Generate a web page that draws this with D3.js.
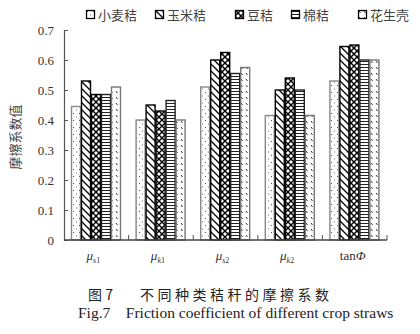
<!DOCTYPE html>
<html><head><meta charset="utf-8">
<script src="https://cdn.jsdelivr.net/npm/d3@7"></script>
<style>body{margin:0;background:#fff}svg{display:block}</style>
</head><body>
<svg id="c" width="420" height="334"></svg>
<script>
const categories = ["μs1","μk1","μs2","μk2","tanΦ"];
const catBase = ["μ","μ","μ","μ","tan"];
const catSub = ["s1","k1","s2","k2",""];
const seriesNames = ["小麦秸","玉米秸","豆秸","棉秸","花生壳"];
const wheat  = [0.445,0.40,0.51,0.415,0.53];
const corn   = [0.53,0.45,0.60,0.50,0.645];
const bean   = [0.485,0.43,0.625,0.54,0.65];
const cotton = [0.485,0.465,0.555,0.50,0.60];
const peanut = [0.51,0.40,0.575,0.415,0.60];
const seriesValues = [wheat,corn,bean,cotton,peanut];
const yTicks = [0,0.1,0.2,0.3,0.4,0.5,0.6,0.7];

const svg = d3.select("#c");
const defs = svg.append("defs");
// patterns
function pat(id,w,h){return defs.append("pattern").attr("id",id).attr("patternUnits","userSpaceOnUse").attr("width",w).attr("height",h);}
let p = pat("p0",6,7);
p.append("rect").attr("width",6).attr("height",7).attr("fill","#fff");
p.append("rect").attr("x",1).attr("y",1).attr("width",1).attr("height",1).attr("fill","#555");
p.append("rect").attr("x",4).attr("y",4.5).attr("width",1).attr("height",1).attr("fill","#777");
p = pat("p1",7,7);
p.append("rect").attr("width",7).attr("height",7).attr("fill","#fff");
p.append("path").attr("d","M-1,-1L8,8M-1,6L1,8M6,-1L8,1").attr("stroke","#000").attr("stroke-width",1.3);
p = pat("p2",6,6);
p.append("rect").attr("width",6).attr("height",6).attr("fill","#fff");
p.append("path").attr("d","M0,0L6,6M6,0L0,6").attr("stroke","#000").attr("stroke-width",1.4);
p = pat("p3",6,3);
p.append("rect").attr("width",6).attr("height",3).attr("fill","#fff");
p.append("path").attr("d","M0,1.5H6").attr("stroke","#222").attr("stroke-width",1);
p = pat("p4",5,6);
p.append("rect").attr("width",5).attr("height",6).attr("fill","#fff");
p.append("path").attr("d","M1,1L2.5,3").attr("stroke","#333").attr("stroke-width",1);
const strokes = ["#888","#000","#000","#222","#777"];

const x = d3.scaleBand().domain(categories).range([64,387]).paddingInner(0).paddingOuter(0);
const xs = d3.scaleBand().domain(seriesNames).range([7,57]);
const y = d3.scaleLinear().domain([0,0.7]).range([240,30]);

// bars
seriesNames.forEach((s,si)=>{
  svg.append("g").selectAll("rect").data(seriesValues[si]).join("rect")
    .attr("x",(d,i)=>x(categories[i])+xs(s)+0.5)
    .attr("y",d=>y(d))
    .attr("width",xs.bandwidth()-1)
    .attr("height",d=>y(0)-y(d))
    .attr("fill",`url(#p${si})`)
    .attr("stroke",strokes[si]).attr("stroke-width",1.4);
});

// y axis
const ya = svg.append("g").attr("transform","translate(64,0)")
  .call(d3.axisLeft(y).tickValues(yTicks).tickFormat(d=>d===0?"0":d3.format(".1f")(d)).tickSize(-4).tickPadding(10));
ya.select(".domain").attr("stroke","#555").attr("stroke-width",1.2);
ya.selectAll(".tick line").attr("stroke","#555");
ya.selectAll("text").attr("font-family","Liberation Serif").attr("font-size",13).attr("fill","#333");

// x axis
svg.append("line").attr("x1",64).attr("x2",387).attr("y1",y(0)).attr("y2",y(0)).attr("stroke","#444").attr("stroke-width",1.5);
svg.append("g").selectAll("line").data(categories).join("line")
  .attr("x1",d=>x(d)+x.bandwidth()).attr("x2",d=>x(d)+x.bandwidth())
  .attr("y1",y(0)).attr("y2",y(0)-5).attr("stroke","#555");

// category labels
const cl = svg.append("g").selectAll("text").data(categories).join("text")
  .attr("x",d=>x(d)+x.bandwidth()/2+(d==="tanΦ"?-2:-3)).attr("y",260)
  .attr("text-anchor","middle").attr("font-family","Liberation Serif").attr("font-size",13).attr("fill","#333");
cl.each(function(d,i){
  const t = d3.select(this);
  if(catSub[i]){
    t.append("tspan").attr("font-style","italic").text(catBase[i]);
    t.append("tspan").attr("font-size",8).attr("dy",3).attr("font-style","italic").text(catSub[i][0]);
    t.append("tspan").attr("font-size",8).text(catSub[i].slice(1));
  } else {
    t.append("tspan").text(catBase[i]);
    t.append("tspan").attr("font-style","italic").text("Φ");
  }
});

// y title
svg.append("text").attr("transform","translate(20,137) rotate(-90)").attr("text-anchor","middle")
  .attr("font-family","Noto Sans CJK SC").attr("font-size",13).attr("fill","#444").text("摩擦系数值");

// legend
const legX = [86,155,235,291,358];
const lg = svg.append("g").selectAll("g").data(seriesNames).join("g")
  .attr("transform",(d,i)=>`translate(${legX[i]},10)`);
lg.append("rect").attr("x",0.5).attr("y",0.5).attr("width",8).attr("height",8)
  .attr("fill",(d,i)=>`url(#p${i})`).attr("stroke","#000").attr("stroke-width",1.3);
lg.append("text").attr("x",12).attr("y",9.5).attr("font-family","Noto Sans CJK SC").attr("font-size",13).attr("fill","#444").text(d=>d);

// captions
svg.append("text").attr("x",88).attr("y",300).attr("font-family","Noto Sans CJK SC").attr("font-size",14).attr("fill","#222").text("图 7");
svg.append("text").attr("x",140).attr("y",300).attr("font-family","Noto Sans CJK SC").attr("font-size",14).attr("letter-spacing",3.5).attr("fill","#222").text("不同种类秸秆的摩擦系数");
svg.append("text").attr("x",78).attr("y",318).attr("font-family","Liberation Serif").attr("font-size",15.5).attr("fill","#222").attr("xml:space","preserve").text("Fig.7    Friction coefficient of different crop straws");
</script>
</body></html>
